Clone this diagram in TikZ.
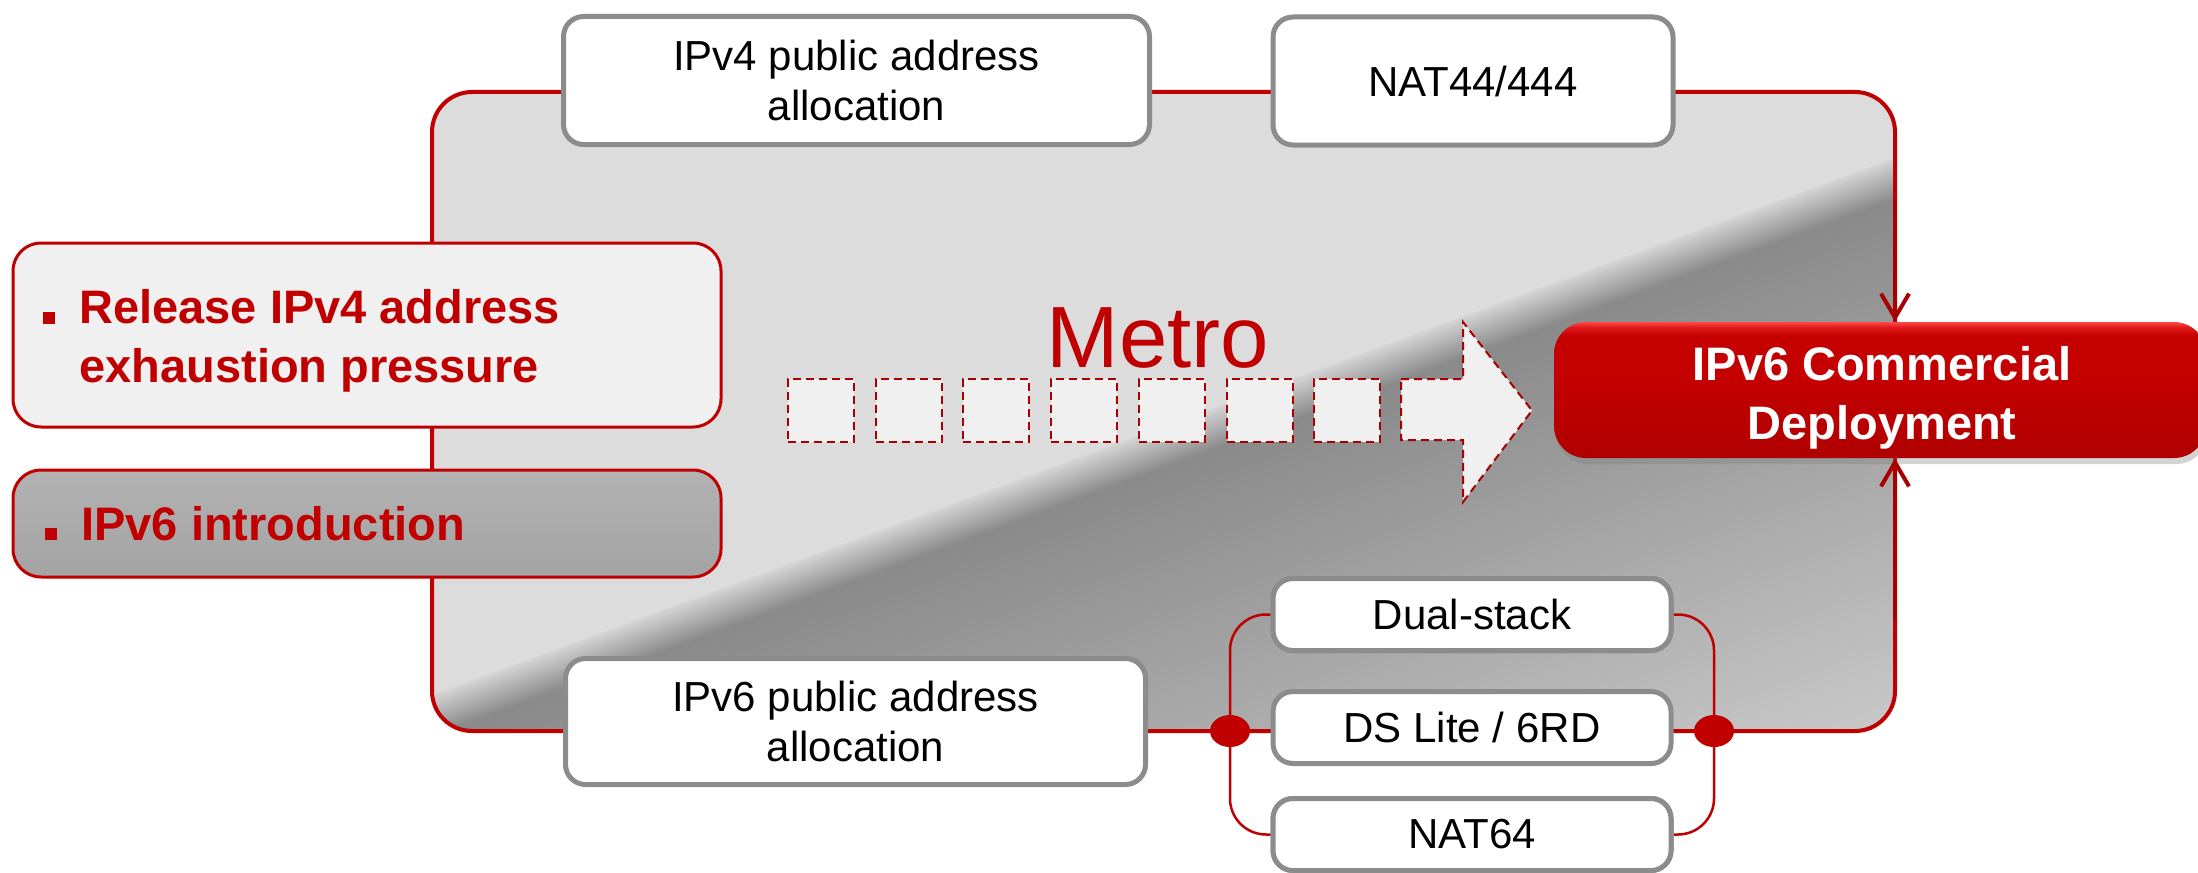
\documentclass[tikz,border=0pt]{standalone}
\usepackage{fontspec}
\setmainfont{Liberation Sans}
\usetikzlibrary{arrows.meta,shapes.geometric,shadows}
\definecolor{ered}{HTML}{C00000}
\definecolor{dred}{HTML}{A80000}
\definecolor{bgray}{HTML}{8C8C8C}
\definecolor{upgray}{HTML}{DCDCDC}
\definecolor{lowlight}{HTML}{D4D4D4}
\definecolor{lowmid}{HTML}{B4B4B4}
\definecolor{lowdark}{HTML}{8A8A8A}
\definecolor{lowfar}{HTML}{CACACA}
\definecolor{rtop}{HTML}{FF4848}
\definecolor{rtopb}{HTML}{E01818}
\definecolor{rmid}{HTML}{C40000}
\definecolor{rbot}{HTML}{B00000}
\definecolor{sqfill}{HTML}{F0F0F0}
\pgfdeclareverticalshading{lowgrad}{100bp}{color(0bp)=(lowfar); color(25bp)=(lowfar); color(71.5bp)=(lowdark); color(73.5bp)=(lowmid); color(75bp)=(lowlight); color(100bp)=(lowlight)}
\pgfdeclareverticalshading{redgloss}{100bp}{color(0bp)=(rbot); color(25bp)=(rbot); color(55bp)=(rmid); color(70bp)=(rmid); color(73bp)=(rtopb); color(75bp)=(rtop); color(100bp)=(rtop)}
\tikzset{
  wbox/.style={draw=bgray, line width=2.5pt, fill=white, rounded corners=10pt, align=center,
    font=\fontsize{21pt}{25pt}\selectfont, inner sep=0pt},
  lbox/.style={draw=ered, line width=1.5pt, rounded corners=14pt, inner sep=0pt},
  ltext/.style={anchor=base west, text=ered, font=\fontsize{23.5pt}{29.5pt}\selectfont\bfseries, inner sep=0pt},
  bullet/.style={fill=ered, minimum width=6pt, minimum height=6pt, inner sep=0pt},
  dsq/.style={draw=dred, line width=1pt, dash pattern=on 4pt off 2.5pt, fill=sqfill,
    minimum width=33pt, minimum height=31.5pt, inner sep=0pt},
  dashshape/.style={draw=dred, line width=1pt, dash pattern=on 4pt off 2.5pt, fill=sqfill},
  rline/.style={draw=ered, line width=1.25pt},
  dot/.style={ellipse, fill=ered, minimum width=20pt, minimum height=16pt, inner sep=0pt},
  arr/.style={draw=dred, line width=1.8pt, -{Straight Barb[length=12pt,width=14pt,line width=2pt]}},
}
\begin{document}
\begin{tikzpicture}[x=0.5pt,y=-0.5pt]
\useasboundingbox (0,0) rectangle (2198,872);
% main metro area
\begin{scope}
  \clip[rounded corners=20pt] (432,92) rectangle (1895,731);
  \fill[upgray] (400,60) rectangle (1950,760);
  \begin{scope}[transform canvas={rotate around={20.16:(435,694)}}]
    \shade[shading=lowgrad] (100,694) rectangle (2100,1240);
  \end{scope}
\end{scope}
\draw[ered, line width=2pt, rounded corners=20pt] (432,92) rectangle (1895,731);
% Metro label and dashed progress arrow
\node[anchor=base, text=ered, font=\fontsize{43.5pt}{50pt}\selectfont, inner sep=0pt] (metro) at (1158,367) {Metro};
\foreach \i in {0,...,6} {
  \node[dsq] (sq\i) at ({821+87.7*\i},410.5) {};
}
\draw[dashshape] (1401,379) -- (1463,379) -- (1463,322) -- (1532,410.5) -- (1463,502) -- (1463,440) -- (1401,440) -- cycle;
% top boxes
\node[wbox, minimum width=293pt, minimum height=64pt] (tb1) at (856.5,80.5) {IPv4 public address\\allocation};
\node[wbox, minimum width=200pt, minimum height=64pt] (tb2) at (1473,81) {NAT44/444};
% bottom boxes
\node[wbox, minimum width=290pt, minimum height=63pt] (bb1) at (855.5,721.5) {IPv6 public address\\allocation};
\coordinate (dotLc) at (1230,731);
\coordinate (dotRc) at (1714,731);
\node[wbox, minimum width=199pt, minimum height=36pt] (dual) at (1472,614.5) {Dual-stack};
\node[wbox, minimum width=199pt, minimum height=36pt] (dslite) at (1472,727.5) {DS Lite / 6RD};
\node[wbox, minimum width=199pt, minimum height=36pt] (nat64) at (1472,834.5) {NAT64};
\draw[rline, rounded corners=18pt] (dual.west) -| (dotLc) |- (nat64.west);
\draw[rline, rounded corners=18pt] (dual.east) -| (dotRc) |- (nat64.east);
% redraw boxes over bracket ends
\node[wbox, minimum width=199pt, minimum height=36pt] at (dual) {Dual-stack};
\node[wbox, minimum width=199pt, minimum height=36pt] at (nat64) {NAT64};
\node[dot] (dotL) at (dotLc) {};
\node[dot] (dotR) at (dotRc) {};
% red target box
\node[shading=redgloss, rounded corners=16pt, minimum width=326pt, minimum height=68pt, inner sep=0pt,
  drop shadow={opacity=0.35, shadow xshift=1pt, shadow yshift=-3pt}] (rb) at (1880,390) {};
\node[text=white, align=center, font=\fontsize{23.5pt}{29.5pt}\selectfont\bfseries, inner sep=0pt] (rbt) at (1882,398) {IPv6 Commercial\\Deployment};
\coordinate (ra) at (1895,200);
\coordinate (rc) at (1895,620);
\draw[arr] (ra) -- (ra |- rb.north);
\draw[arr] (rc) -- (rc |- rb.south);
% left boxes
\node[lbox, fill=black!6, minimum width=354pt, minimum height=92pt] (lb1) at (367,335) {};
\node[lbox, top color=black!30, bottom color=black!36, minimum width=354pt, minimum height=53.5pt] (lb2) at (367,523.5) {};
\node[bullet] (bu1) at (49,317.5) {};
\node[ltext] (lt1a) at (79,323) {Release IPv4 address};
\node[ltext] (lt1b) at (79,382) {exhaustion pressure};
\node[bullet] (bu2) at (50.5,534) {};
\node[ltext] (lt2) at (81,540) {IPv6 introduction};
\end{tikzpicture}
\end{document}
